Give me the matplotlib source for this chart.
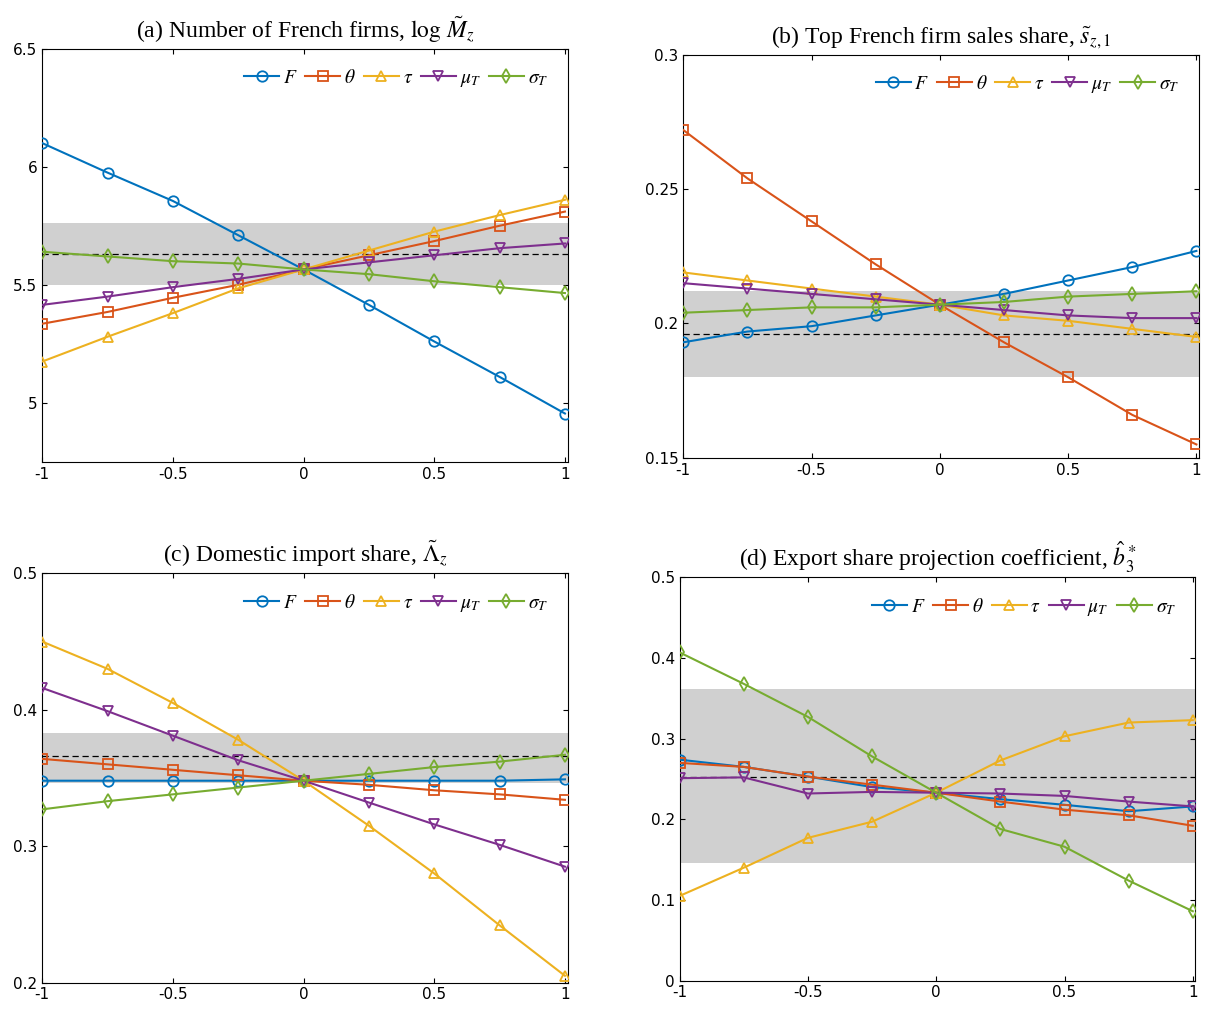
import matplotlib
matplotlib.use("Agg")
import matplotlib.pyplot as plt
import numpy as np

plt.rcParams["mathtext.fontset"] = "stix"

x = [-1, -0.75, -0.5, -0.25, 0, 0.25, 0.5, 0.75, 1]
labels = ["$F$", r"$\theta$", r"$\tau$", r"$\mu_T$", r"$\sigma_T$"]
colors = ["#0072BD", "#D95319", "#EDB120", "#7E2F8E", "#77AC30"]
markers = ["o", "s", "^", "v", "d"]

a_F = [6.10, 5.975, 5.855, 5.71, 5.565, 5.415, 5.26, 5.11, 4.955]
a_th = [5.335, 5.385, 5.445, 5.50, 5.565, 5.625, 5.685, 5.75, 5.81]
a_tau = [5.175, 5.28, 5.38, 5.485, 5.565, 5.645, 5.725, 5.795, 5.86]
a_mu = [5.415, 5.45, 5.49, 5.525, 5.565, 5.595, 5.625, 5.655, 5.675]
a_sig = [5.64, 5.62, 5.60, 5.59, 5.565, 5.545, 5.515, 5.49, 5.465]

b_F = [0.193, 0.197, 0.199, 0.203, 0.207, 0.211, 0.216, 0.221, 0.227]
b_th = [0.272, 0.254, 0.238, 0.222, 0.207, 0.193, 0.180, 0.166, 0.155]
b_tau = [0.219, 0.216, 0.213, 0.210, 0.207, 0.203, 0.201, 0.198, 0.195]
b_mu = [0.215, 0.213, 0.211, 0.209, 0.207, 0.205, 0.203, 0.202, 0.202]
b_sig = [0.204, 0.205, 0.206, 0.206, 0.207, 0.208, 0.210, 0.211, 0.212]

c_F = [0.348, 0.348, 0.348, 0.348, 0.348, 0.348, 0.348, 0.348, 0.349]
c_th = [0.364, 0.360, 0.356, 0.352, 0.348, 0.345, 0.341, 0.338, 0.334]
c_tau = [0.450, 0.430, 0.405, 0.378, 0.348, 0.315, 0.280, 0.242, 0.205]
c_mu = [0.416, 0.399, 0.381, 0.363, 0.348, 0.332, 0.316, 0.301, 0.285]
c_sig = [0.327, 0.333, 0.338, 0.343, 0.348, 0.353, 0.358, 0.362, 0.367]

d_F = [0.274, 0.265, 0.253, 0.240, 0.233, 0.225, 0.218, 0.210, 0.216]
d_th = [0.270, 0.265, 0.253, 0.243, 0.233, 0.222, 0.212, 0.205, 0.192]
d_tau = [0.105, 0.140, 0.177, 0.197, 0.233, 0.273, 0.303, 0.320, 0.323]
d_mu = [0.251, 0.252, 0.232, 0.234, 0.233, 0.232, 0.229, 0.222, 0.216]
d_sig = [0.407, 0.368, 0.327, 0.278, 0.233, 0.188, 0.166, 0.124, 0.086]

panels = [
    dict(title=r"(a) Number of French firms, $\log\,\tilde{M}_z$", series=[a_F, a_th, a_tau, a_mu, a_sig],
         band=(5.50, 5.76), dash=5.63, ylim=(4.75, 6.5), yticks=[5, 5.5, 6, 6.5], ytl=["5", "5.5", "6", "6.5"],
         pos=[0.035, 0.544, 0.436, 0.408]),
    dict(title=r"(b) Top French firm sales share, $\tilde{s}_{z,1}$", series=[b_F, b_th, b_tau, b_mu, b_sig],
         band=(0.180, 0.212), dash=0.196, ylim=(0.15, 0.3), yticks=[0.15, 0.2, 0.25, 0.3], ytl=["0.15", "0.2", "0.25", "0.3"],
         pos=[0.567, 0.548, 0.428, 0.398]),
    dict(title=r"(c) Domestic import share, $\tilde{\Lambda}_z$", series=[c_F, c_th, c_tau, c_mu, c_sig],
         band=(0.346, 0.383), dash=0.366, ylim=(0.2, 0.5), yticks=[0.2, 0.3, 0.4, 0.5], ytl=["0.2", "0.3", "0.4", "0.5"],
         pos=[0.035, 0.030, 0.436, 0.404]),
    dict(title=r"(d) Export share projection coefficient, $\hat{b}_3^*$", series=[d_F, d_th, d_tau, d_mu, d_sig],
         band=(0.146, 0.362), dash=0.253, ylim=(0, 0.5), yticks=[0, 0.1, 0.2, 0.3, 0.4, 0.5], ytl=["0", "0.1", "0.2", "0.3", "0.4", "0.5"],
         pos=[0.564, 0.032, 0.428, 0.398]),
]

fig = plt.figure(figsize=(12.05, 10.13), dpi=100)
for p in panels:
    ax = fig.add_axes(p["pos"])
    ax.axhspan(p["band"][0], p["band"][1], color="#d0d0d0", lw=0, zorder=0)
    ax.axhline(p["dash"], color="black", ls=(0, (5, 3)), lw=0.9, zorder=1)
    for s, lab, c, m in zip(p["series"], labels, colors, markers):
        ax.plot(x, s, color=c, marker=m, mfc="none", mec=c, ms=7.5, mew=1.3, lw=1.5, label=lab, zorder=3)
    ax.set_xlim(-1, 1.01)
    ax.set_ylim(*p["ylim"])
    ax.set_xticks([-1, -0.5, 0, 0.5, 1])
    ax.set_xticklabels(["-1", "-0.5", "0", "0.5", "1"])
    ax.set_yticks(p["yticks"])
    ax.set_yticklabels(p["ytl"])
    ax.tick_params(direction="in", top=True, right=True, labelsize=11)
    ax.set_title(p["title"], family="Liberation Serif", fontsize=17, pad=8)
    ax.legend(loc="upper right", ncol=5, frameon=False, fontsize=14, handlelength=1.8,
              columnspacing=0.4, handletextpad=0.2, borderaxespad=0.6)

fig.savefig("out.png", dpi=100)
